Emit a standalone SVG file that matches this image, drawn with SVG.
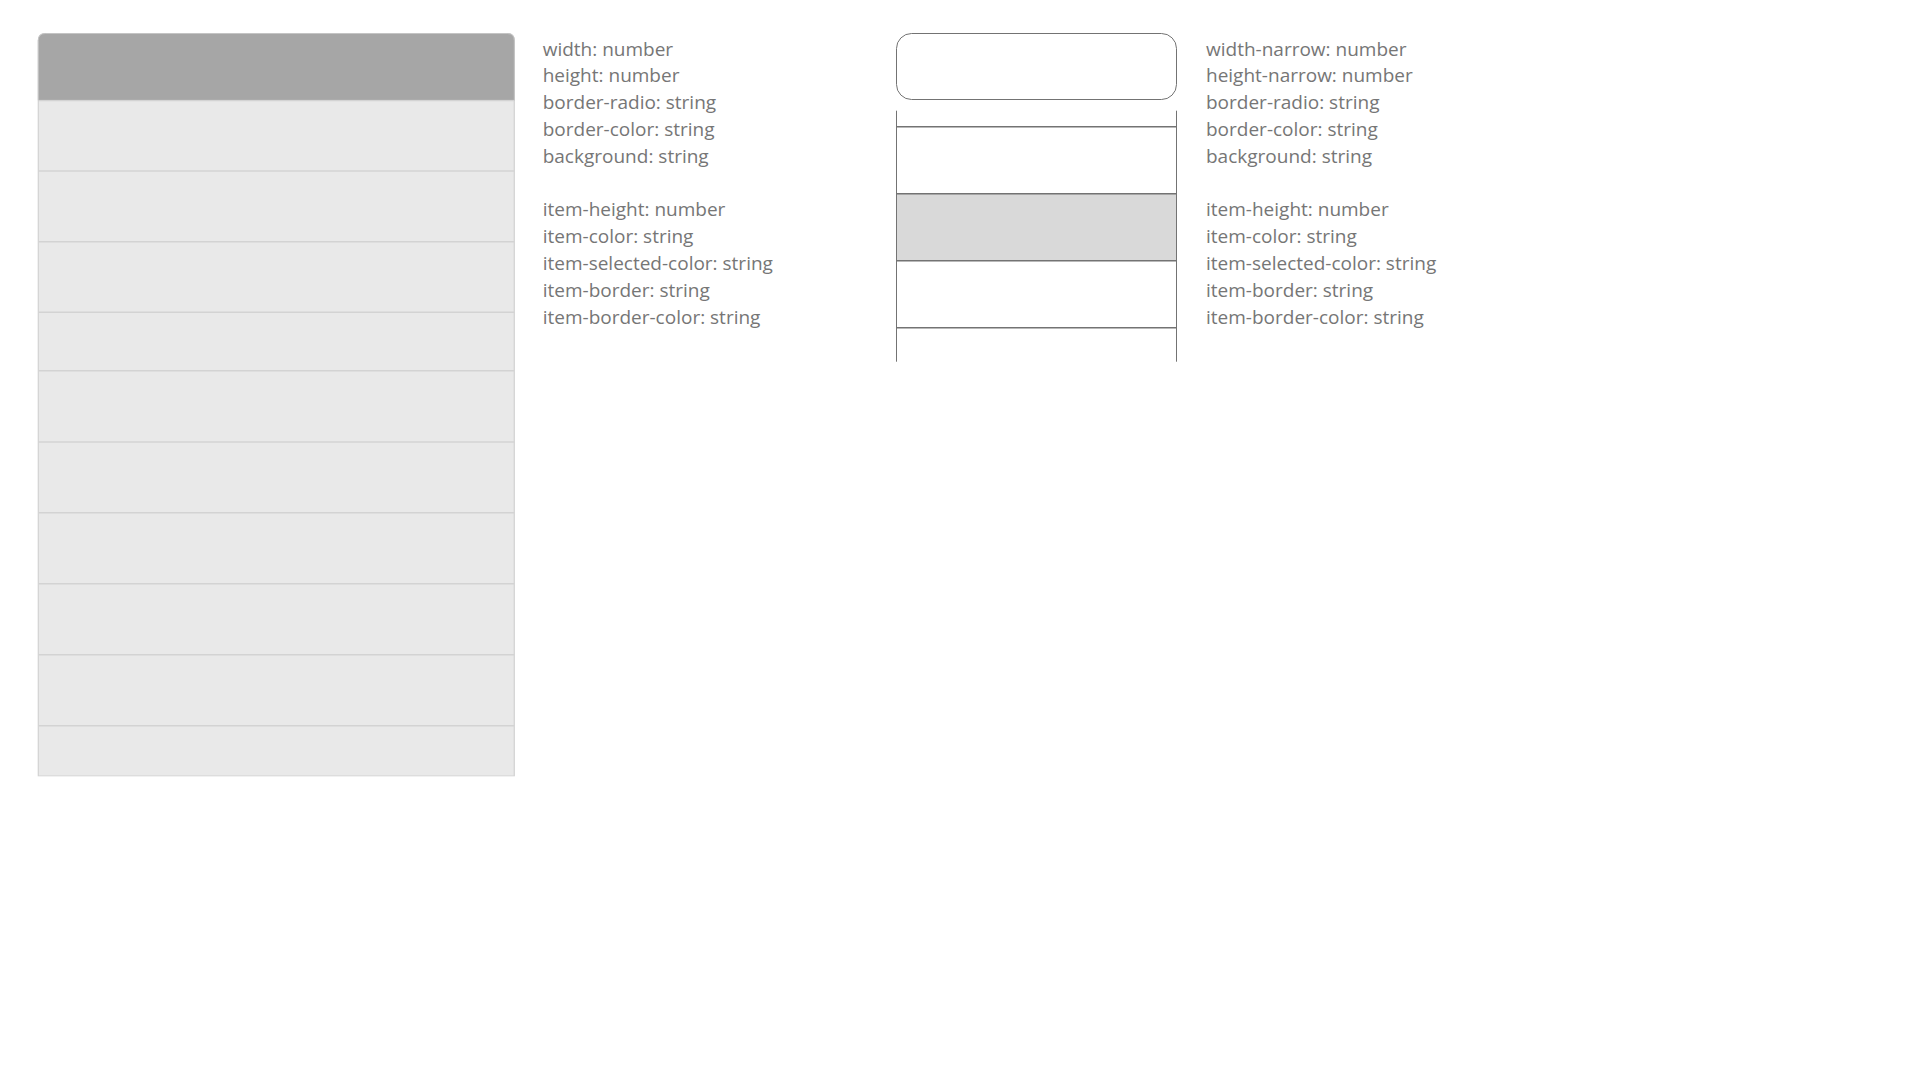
<svg xmlns="http://www.w3.org/2000/svg" width="1920" height="1080" viewBox="0 0 1920 1080">
<style>
.t{font-family:"Open Sans","Noto Sans","Liberation Sans",sans-serif;font-size:19px;fill:#767676}
.div{stroke:#d3d3d3;stroke-width:1.4}
.wire{stroke:#737373;fill:none}
</style>
<rect width="1920" height="1080" fill="#ffffff"/>
<g id="wide-list">
<path d="M38.3,776 V40.5 Q38.3,33.5 45.3,33.5 H507.3 Q514.3,33.5 514.3,40.5 V776 Z" fill="#e9e9e9" stroke="#d2d2d2" stroke-width="1.2"/>
<path d="M38.3,100.3 V40.5 Q38.3,33.5 45.3,33.5 H507.3 Q514.3,33.5 514.3,40.5 V100.3 Z" fill="#a6a6a6" stroke="#c4c4c4" stroke-width="1"/>
<rect x="30" y="776.6" width="500" height="10" fill="#ffffff"/>
<line class="div" x1="38.3" y1="100.6" x2="514.3" y2="100.6"/>
<line class="div" x1="38.3" y1="171" x2="514.3" y2="171"/>
<line class="div" x1="38.3" y1="241.7" x2="514.3" y2="241.7"/>
<line class="div" x1="38.3" y1="312.3" x2="514.3" y2="312.3"/>
<line class="div" x1="38.3" y1="370.7" x2="514.3" y2="370.7"/>
<line class="div" x1="38.3" y1="442" x2="514.3" y2="442"/>
<line class="div" x1="38.3" y1="512.7" x2="514.3" y2="512.7"/>
<line class="div" x1="38.3" y1="583.7" x2="514.3" y2="583.7"/>
<line class="div" x1="38.3" y1="654.7" x2="514.3" y2="654.7"/>
<line class="div" x1="38.3" y1="725.7" x2="514.3" y2="725.7"/>
</g>
<g id="wide-props">
<text class="t" x="542.7" y="55.5">width: number</text>
<text class="t" x="542.7" y="82.3">height: number</text>
<text class="t" x="542.7" y="109.1">border-radio: string</text>
<text class="t" x="542.7" y="135.9">border-color: string</text>
<text class="t" x="542.7" y="162.7">background: string</text>
<text class="t" x="542.7" y="216.3">item-height: number</text>
<text class="t" x="542.7" y="243.1">item-color: string</text>
<text class="t" x="542.7" y="269.9">item-selected-color: string</text>
<text class="t" x="542.7" y="296.7">item-border: string</text>
<text class="t" x="542.7" y="323.5">item-border-color: string</text>
</g>
<g id="narrow-box">
<rect class="wire" x="896.5" y="33.5" width="280" height="66" rx="15" ry="15" stroke-width="1"/>
</g>
<g id="narrow-list">
<rect x="896.5" y="193.7" width="280" height="67" fill="#d9d9d9"/>
<line class="wire" x1="896.5" y1="110.7" x2="896.5" y2="361.7" stroke-width="1"/>
<line class="wire" x1="1176.5" y1="110.7" x2="1176.5" y2="361.7" stroke-width="1"/>
<line class="wire" x1="896.5" y1="126.7" x2="1176.5" y2="126.7" stroke-width="1.5"/>
<line class="wire" x1="896.5" y1="193.7" x2="1176.5" y2="193.7" stroke-width="1.5"/>
<line class="wire" x1="896.5" y1="260.7" x2="1176.5" y2="260.7" stroke-width="1.5"/>
<line class="wire" x1="896.5" y1="327.7" x2="1176.5" y2="327.7" stroke-width="1.5"/>
</g>
<g id="narrow-props">
<text class="t" x="1206" y="55.5">width-narrow: number</text>
<text class="t" x="1206" y="82.3">height-narrow: number</text>
<text class="t" x="1206" y="109.1">border-radio: string</text>
<text class="t" x="1206" y="135.9">border-color: string</text>
<text class="t" x="1206" y="162.7">background: string</text>
<text class="t" x="1206" y="216.3">item-height: number</text>
<text class="t" x="1206" y="243.1">item-color: string</text>
<text class="t" x="1206" y="269.9">item-selected-color: string</text>
<text class="t" x="1206" y="296.7">item-border: string</text>
<text class="t" x="1206" y="323.5">item-border-color: string</text>
</g>
<g id="connectors"></g>
</svg>
